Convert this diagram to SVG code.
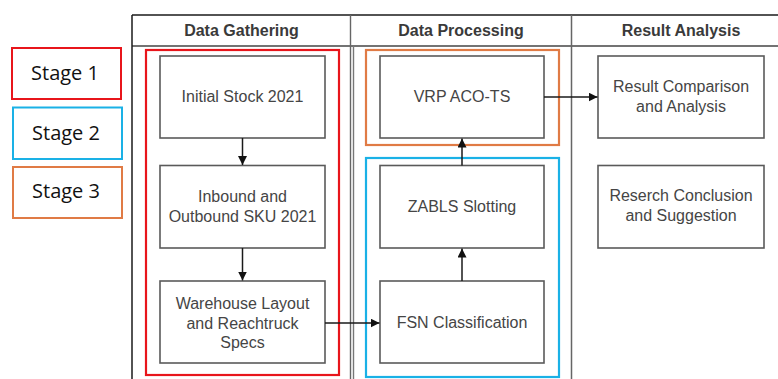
<svg xmlns="http://www.w3.org/2000/svg" width="778" height="379" viewBox="0 0 778 379">
<style>
.node{fill:#fff;stroke:#5a5a5a;stroke-width:1.6}
.t{font-family:"Liberation Sans",Arial,sans-serif;font-size:16px;fill:#454545;text-anchor:middle}
.h{font-family:"Liberation Sans",Arial,sans-serif;font-size:16px;font-weight:bold;fill:#3a3a3a;text-anchor:middle}
.st{font-family:"Open Sans","Noto Sans",sans-serif;font-size:20px;fill:#111;text-anchor:middle}
.edge{fill:none;stroke:#1a1a1a;stroke-width:1.5}
</style>
<defs>
<marker id="arr" viewBox="0 0 10 10" refX="10" refY="5" markerWidth="9" markerHeight="9" markerUnits="userSpaceOnUse" orient="auto">
<path d="M0,0 L10,5 L0,10 Z" fill="#111"/>
</marker>
</defs>
<rect width="778" height="379" fill="#fff"/>
<g id="lanes">
<line x1="132" y1="15" x2="778" y2="15" stroke="#1a1a1a" stroke-width="1.6"/>
<line x1="132" y1="46" x2="778" y2="46" stroke="#444" stroke-width="1.5"/>
<line x1="132" y1="15" x2="132" y2="379" stroke="#1a1a1a" stroke-width="1.5"/>
<line x1="350.5" y1="15" x2="350.5" y2="379" stroke="#666" stroke-width="1.4"/>
<line x1="353.5" y1="46" x2="353.5" y2="379" stroke="#777" stroke-width="1.4"/>
<line x1="571.5" y1="15" x2="571.5" y2="379" stroke="#666" stroke-width="1.5"/>
<text class="h" x="241.5" y="36">Data Gathering</text>
<text class="h" x="461" y="36">Data Processing</text>
<text class="h" x="681" y="36">Result Analysis</text>
</g>
<g id="stage-legend">
<g id="stage1"><rect x="12" y="48" width="109" height="51" fill="#fff" stroke="#e8151b" stroke-width="2"/><text class="st" x="65" y="80">Stage 1</text></g>
<g id="stage2"><rect x="13" y="107.5" width="109" height="51.5" fill="#fff" stroke="#1ab1e6" stroke-width="2"/><text class="st" x="66" y="139.5">Stage 2</text></g>
<g id="stage3"><rect x="13" y="167" width="109" height="51" fill="#fff" stroke="#e07b45" stroke-width="2"/><text class="st" x="66" y="197.5">Stage 3</text></g>
</g>
<g id="stage-areas" fill="none" stroke-width="2.2">
<rect x="146" y="50" width="193" height="325" stroke="#e8151b"/>
<rect x="366" y="50" width="193" height="95" stroke="#e07b45"/>
<rect x="366" y="158" width="193" height="219" stroke="#1ab1e6"/>
</g>
<g id="initial-stock"><rect class="node" x="160" y="56" width="165" height="82"/><text class="t" x="242.5" y="102">Initial Stock 2021</text></g>
<g id="inbound-outbound"><rect class="node" x="160" y="165.5" width="165" height="82.5"/><text class="t" x="242.5" y="202">Inbound and</text><text class="t" x="242.5" y="222">Outbound SKU 2021</text></g>
<g id="warehouse-layout"><rect class="node" x="160" y="281" width="165" height="82"/><text class="t" x="242.5" y="309">Warehouse Layout</text><text class="t" x="242.5" y="328.5">and Reachtruck</text><text class="t" x="242.5" y="348">Specs</text></g>
<g id="vrp"><rect class="node" x="380" y="56" width="164" height="82"/><text class="t" x="462" y="102">VRP ACO-TS</text></g>
<g id="zabls"><rect class="node" x="380" y="165.5" width="164" height="82.5"/><text class="t" x="462" y="212">ZABLS Slotting</text></g>
<g id="fsn"><rect class="node" x="380" y="281" width="164" height="82"/><text class="t" x="462" y="328">FSN Classification</text></g>
<g id="result-comparison"><rect class="node" x="598" y="56" width="166" height="82"/><text class="t" x="681" y="92">Result Comparison</text><text class="t" x="681" y="112">and Analysis</text></g>
<g id="research-conclusion"><rect class="node" x="598" y="165.5" width="166" height="82.5"/><text class="t" x="681" y="201">Reserch Conclusion</text><text class="t" x="681" y="221">and Suggestion</text></g>
<g id="connectors">
<line class="edge" x1="242.5" y1="138" x2="242.5" y2="165" marker-end="url(#arr)"/>
<line class="edge" x1="242.5" y1="248" x2="242.5" y2="280.5" marker-end="url(#arr)"/>
<line class="edge" x1="325" y1="323" x2="379.5" y2="323" marker-end="url(#arr)"/>
<line class="edge" x1="462" y1="281" x2="462" y2="248.5" marker-end="url(#arr)"/>
<line class="edge" x1="462" y1="165.5" x2="462" y2="138.5" marker-end="url(#arr)"/>
<line class="edge" x1="544" y1="97" x2="597.5" y2="97" marker-end="url(#arr)"/>
</g>
</svg>
